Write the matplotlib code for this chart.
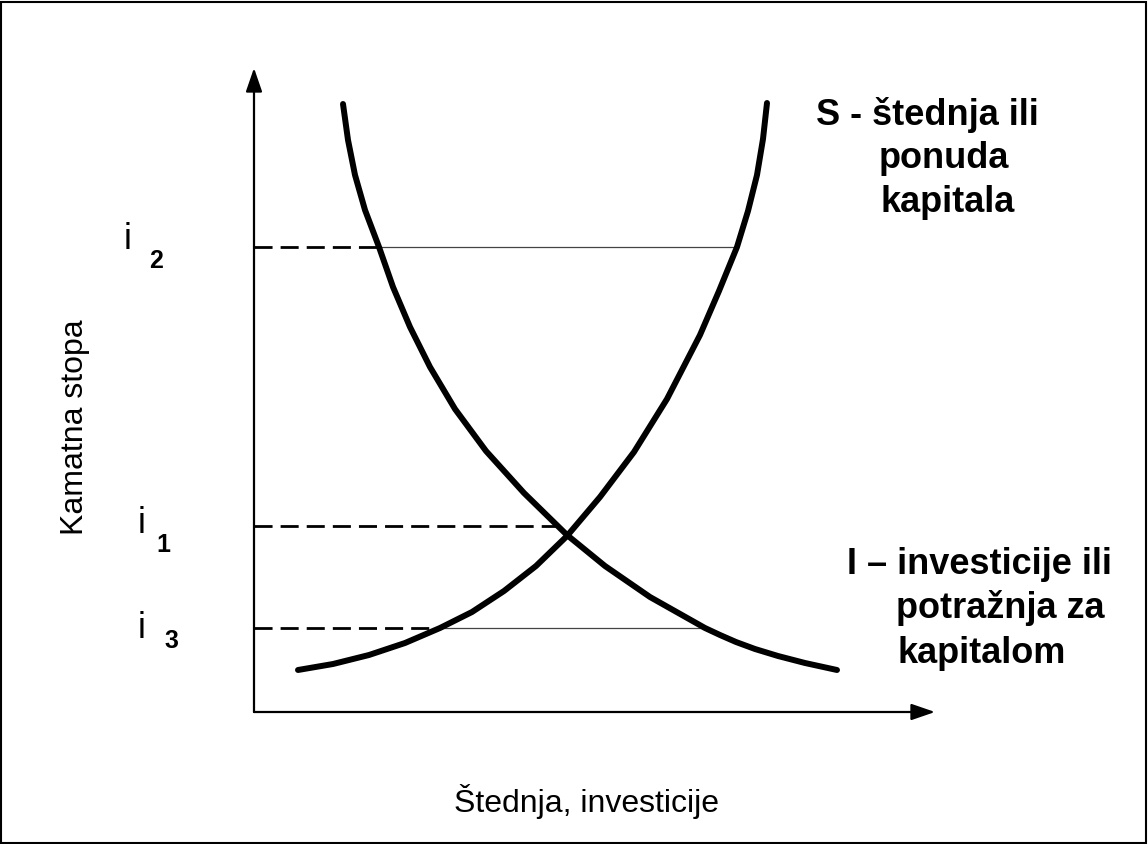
import matplotlib
matplotlib.use("Agg")
import matplotlib.pyplot as plt
from matplotlib.patches import Rectangle

plt.rcParams['font.family'] = ['Liberation Sans', 'DejaVu Sans']

# ---- data (units: origin at the axes corner) ----
# I - investment / demand for capital (decreasing)
I_x = [89, 94, 101, 111, 125, 139, 156, 176, 201, 232, 270, 313, 351, 396,
       451, 466, 482, 501, 524, 551, 583]
I_y = [608, 572, 537, 502, 465, 425, 385, 345, 303, 261, 219, 177, 146, 115,
       84, 77, 70, 63, 56, 49, 42]
# S - savings / supply of capital (increasing)
S_x = [44, 79, 115, 151, 186, 218, 250, 282, 313, 346, 380, 413, 446, 465,
       483, 494, 503, 509, 513]
S_y = [42, 48, 57, 69, 84, 100, 121, 146, 176, 215, 260, 313, 377, 421,
       465, 501, 537, 573, 609]

# interest-rate levels
levels = [465, 186, 84]
level_names = ['2', '1', '3']
dash_end = [125, 309, 186]          # dashed guide from the axis to first curve
solid_span = [(125, 483), None, (186, 451)]  # thin line between the curves

x_axis_end = 681
y_axis_end = 644

fig = plt.figure(figsize=(11.48, 8.44), dpi=100)
ax = fig.add_axes([0, 0, 1, 1])
ax.set_xlim(-254, 894)
ax.set_ylim(-132, 712)
ax.axis('off')

# border
fig.patches.append(Rectangle((1 / 1148, 1 / 844), 1145 / 1148, 841 / 844,
                             transform=fig.transFigure, fill=False,
                             edgecolor='black', lw=1.5))

# axes with arrows
arrow_kw = dict(arrowstyle='-|>,head_length=1.45,head_width=0.5',
                mutation_scale=10, lw=1.6, color='black',
                shrinkA=0, shrinkB=0)
ax.annotate('', xy=(0, y_axis_end), xytext=(0, 0), arrowprops=arrow_kw)
ax.annotate('', xy=(x_axis_end, 0), xytext=(0, 0), arrowprops=arrow_kw)

# guide lines
for lv, de, sp in zip(levels, dash_end, solid_span):
    ax.plot([0, de], [lv, lv], color='black', lw=2.0,
            linestyle=(0, (6.5, 2.9)), solid_capstyle='butt')
    if sp is not None:
        ax.plot(list(sp), [lv, lv], color='#444444', lw=0.9)

# curves
ax.plot(I_x, I_y, color='black', lw=4.3, solid_capstyle='round',
        solid_joinstyle='round')
ax.plot(S_x, S_y, color='black', lw=4.3, solid_capstyle='round',
        solid_joinstyle='round')

# level labels
i_pos = [(-126, 463), (-112, 179), (-112, 74)]
sub_pos = [(-97.5, 444), (-91, 160), (-83, 64)]
for name, ip, sp in zip(level_names, i_pos, sub_pos):
    ax.text(ip[0], ip[1], 'i', fontsize=26, ha='center', va='baseline')
    ax.text(sp[0], sp[1], name, fontsize=18, fontweight='bold',
            ha='center', va='baseline')

# axis titles
ax.text(-179, 285, 'Kamatna stopa', fontsize=23, rotation=90,
        ha='center', va='center')
ax.text(332, -100, 'Štednja, investicije', fontsize=23,
        ha='center', va='baseline')

# curve labels
S_lines = ['S - štednja ili', 'ponuda', 'kapitala']
S_pos = [(673.5, 587), (690, 544), (694, 500)]
for t, p in zip(S_lines, S_pos):
    ax.text(p[0], p[1], t, fontsize=26, fontweight='bold',
            ha='center', va='baseline')

I_lines = ['I – investicije ili', 'potražnja za', 'kapitalom']
I_pos = [(593, 138), (642, 94), (644, 49)]
for t, p in zip(I_lines, I_pos):
    ax.text(p[0], p[1], t, fontsize=26, fontweight='bold',
            ha='left', va='baseline')

fig.savefig('out.png', dpi=100)
